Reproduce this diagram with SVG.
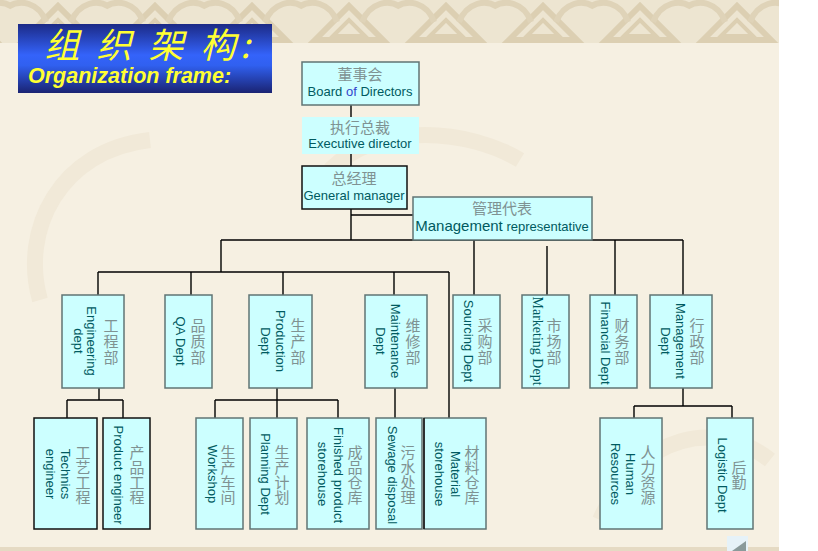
<svg xmlns="http://www.w3.org/2000/svg" width="818" height="551" viewBox="0 0 818 551">
<style>
.box{fill:#ccffff;stroke:#607474;stroke-width:1.5}
.bbox{fill:#ccffff;stroke:#111;stroke-width:1.5}
.cn{font-family:"Noto Sans CJK SC","Noto Sans",sans-serif;font-size:15px;fill:#7f9292;text-anchor:middle}
.en{font-family:"Liberation Sans",Arial,sans-serif;font-size:13px;fill:#005a60;text-anchor:middle}
.ens{font-family:"Liberation Serif","Times New Roman",serif;font-size:14px;fill:#005a60;text-anchor:middle}
#connectors line{stroke:#000;stroke-width:1.4}
</style>
<defs>
<linearGradient id="tg" x1="0" y1="0" x2="0" y2="1">
<stop offset="0" stop-color="#1c2a86"/>
<stop offset="0.45" stop-color="#3463fa"/>
<stop offset="0.6" stop-color="#3060f0"/>
<stop offset="1" stop-color="#1a2372"/>
</linearGradient>
<pattern id="knot" x="10" y="0" width="97" height="43" patternUnits="userSpaceOnUse">
<rect width="97" height="43" fill="#ede5d1"/>
<path d="M14,40 L48,6 L82,40 Z" fill="none" stroke="#dccfb2" stroke-width="6"/>
<path d="M32,36 L48,20 L64,36 Z" fill="none" stroke="#dccfb2" stroke-width="4"/>
<path d="M-6,10 C10,-4 30,4 36,22 M61,22 C68,4 88,-4 103,10" fill="none" stroke="#dfd3b8" stroke-width="6"/>
</pattern>
</defs>
<rect width="818" height="551" fill="#ffffff"/>
<rect x="0" y="0" width="779" height="548" fill="#f6f0e2"/>
<g fill="none" stroke="#f1e9d8" stroke-width="16">
<path d="M40,300 C20,230 60,150 150,140"/>
<path d="M600,520 C640,430 720,420 770,460"/>
<path d="M330,170 C380,120 470,130 520,160"/>
</g>
<rect x="0" y="0" width="779" height="43" fill="url(#knot)"/>
<rect x="0" y="547" width="779" height="4" fill="#e5dac3"/>
<rect x="727" y="536" width="21" height="15" fill="#e6f2f8"/>
<path d="M732,551 L746,541 L746,551 Z" fill="#8a9a9a"/>

<g id="title">
<rect x="18" y="24" width="254" height="69" fill="url(#tg)"/>
<text font-family="'Noto Sans CJK SC',sans-serif" font-size="35" font-style="italic" fill="#ffff33" text-anchor="middle" y="58"><tspan x="62">组</tspan><tspan x="114">织</tspan><tspan x="166">架</tspan><tspan x="218">构</tspan><tspan x="245">:</tspan></text>
<text x="28" y="83" font-family="'Liberation Sans',Arial,sans-serif" font-size="21.5" font-weight="bold" font-style="italic" fill="#ffff33">Organization frame:</text>
</g>

<g id="connectors">
<line x1="351" y1="105" x2="351" y2="117"/>
<line x1="351" y1="154" x2="351" y2="166"/>
<line x1="351" y1="209" x2="351" y2="240"/>
<line x1="351" y1="215" x2="413" y2="215"/>
<line x1="221" y1="240" x2="683" y2="240"/>
<line x1="221" y1="240" x2="221" y2="272"/>
<line x1="98" y1="272" x2="449" y2="272"/>
<line x1="98" y1="272" x2="98" y2="295"/>
<line x1="191" y1="272" x2="191" y2="295"/>
<line x1="283" y1="272" x2="283" y2="295"/>
<line x1="394" y1="272" x2="394" y2="295"/>
<line x1="449" y1="272" x2="449" y2="418"/>
<line x1="474" y1="240" x2="474" y2="295"/>
<line x1="547" y1="246" x2="547" y2="295"/>
<line x1="615" y1="240" x2="615" y2="295"/>
<line x1="683" y1="240" x2="683" y2="295"/>
<line x1="99" y1="388" x2="99" y2="400"/>
<line x1="67" y1="400" x2="123" y2="400"/>
<line x1="67" y1="400" x2="67" y2="418"/>
<line x1="123" y1="400" x2="123" y2="418"/>
<line x1="277" y1="388" x2="277" y2="418"/>
<line x1="215" y1="400" x2="338" y2="400"/>
<line x1="215" y1="400" x2="215" y2="418"/>
<line x1="338" y1="400" x2="338" y2="418"/>
<line x1="395" y1="388" x2="395" y2="418"/>
<line x1="683" y1="388" x2="683" y2="406"/>
<line x1="634" y1="406" x2="732" y2="406"/>
<line x1="634" y1="406" x2="634" y2="418"/>
<line x1="732" y1="406" x2="732" y2="418"/>
</g>

<g id="board">
<rect class="box" x="302" y="62" width="117" height="43"/>
<text class="cn" x="360" y="80">董事会</text>
<text class="en" x="360" y="96">Board <tspan fill="#3344cc">of</tspan> Directors</text>
</g>
<g id="executive">
<rect x="302" y="117" width="117" height="37" fill="#ccffff"/>
<text class="cn" x="360" y="133">执行总裁</text>
<text class="en" x="360" y="148">Executive director</text>
</g>
<g id="general-manager">
<rect class="bbox" x="302" y="166" width="105" height="43"/>
<text class="cn" x="354" y="184">总经理</text>
<text class="en" x="354" y="200">General manager</text>
</g>
<g id="management-rep">
<rect class="box" x="413" y="197" width="179" height="43"/>
<text class="cn" x="502" y="214">管理代表</text>
<text class="en" x="502" y="231"><tspan font-size="15">Management</tspan> representative</text>
</g>

<g id="engineering">
<rect class="box" x="62" y="295" width="62" height="93"/>
<text class="cn"><tspan x="111" y="331">工</tspan><tspan x="111" y="347">程</tspan><tspan x="111" y="363">部</tspan></text>
<text class="en" transform="translate(87,341) rotate(90)">Engineering</text>
<text class="en" transform="translate(74,341) rotate(90)">dept</text>
</g>
<g id="qa">
<rect class="box" x="165" y="295" width="47" height="93"/>
<text class="cn"><tspan x="198" y="331">品</tspan><tspan x="198" y="347">质</tspan><tspan x="198" y="363">部</tspan></text>
<text class="en" transform="translate(176,341) rotate(90)">QA Dept</text>
</g>
<g id="production">
<rect class="box" x="249" y="295" width="63" height="93"/>
<text class="cn"><tspan x="298" y="331">生</tspan><tspan x="298" y="347">产</tspan><tspan x="298" y="363">部</tspan></text>
<text class="en" transform="translate(276,341) rotate(90)">Production</text>
<text class="en" transform="translate(261,341) rotate(90)">Dept</text>
</g>
<g id="maintenance">
<rect class="box" x="365" y="295" width="62" height="93"/>
<text class="cn"><tspan x="413" y="331">维</tspan><tspan x="413" y="347">修</tspan><tspan x="413" y="363">部</tspan></text>
<text class="en" transform="translate(391,341) rotate(90)">Maintenance</text>
<text class="en" transform="translate(376,341) rotate(90)">Dept</text>
</g>
<g id="sourcing">
<rect class="box" x="453" y="295" width="47" height="93"/>
<text class="cn"><tspan x="485" y="331">采</tspan><tspan x="485" y="347">购</tspan><tspan x="485" y="363">部</tspan></text>
<text class="en" transform="translate(464,341) rotate(90)">Sourcing Dept</text>
</g>
<g id="marketing">
<rect class="box" x="522" y="295" width="47" height="93"/>
<text class="cn"><tspan x="554" y="331">市</tspan><tspan x="554" y="347">场</tspan><tspan x="554" y="363">部</tspan></text>
<text class="ens" transform="translate(533,341) rotate(90)">Marketing Dept</text>
</g>
<g id="financial">
<rect class="box" x="590" y="295" width="47" height="93"/>
<text class="cn"><tspan x="622" y="331">财</tspan><tspan x="622" y="347">务</tspan><tspan x="622" y="363">部</tspan></text>
<text class="en" transform="translate(601,343) rotate(90)">Financial Dept</text>
</g>
<g id="management">
<rect class="box" x="650" y="295" width="62" height="93"/>
<text class="cn"><tspan x="697" y="331">行</tspan><tspan x="697" y="347">政</tspan><tspan x="697" y="363">部</tspan></text>
<text class="en" transform="translate(676,341) rotate(90)">Management</text>
<text class="en" transform="translate(661,341) rotate(90)">Dept</text>
</g>

<g id="technics">
<rect class="bbox" x="34" y="418" width="63" height="111"/>
<text class="cn"><tspan x="83" y="458">工</tspan><tspan x="83" y="473">艺</tspan><tspan x="83" y="488">工</tspan><tspan x="83" y="503">程</tspan></text>
<text class="en" transform="translate(61,474) rotate(90)">Technics</text>
<text class="en" transform="translate(46,474) rotate(90)">engineer</text>
</g>
<g id="product-engineer">
<rect class="bbox" x="103" y="418" width="47" height="111"/>
<text class="cn"><tspan x="137" y="458">产</tspan><tspan x="137" y="473">品</tspan><tspan x="137" y="488">工</tspan><tspan x="137" y="503">程</tspan></text>
<text class="en" transform="translate(114,475) rotate(90)">Product engineer</text>
</g>
<g id="workshop">
<rect class="box" x="196" y="418" width="47" height="111"/>
<text class="cn"><tspan x="228" y="458">生</tspan><tspan x="228" y="473">产</tspan><tspan x="228" y="488">车</tspan><tspan x="228" y="503">间</tspan></text>
<text class="en" transform="translate(208,474) rotate(90)">Workshop</text>
</g>
<g id="planning">
<rect class="box" x="250" y="418" width="47" height="111"/>
<text class="cn"><tspan x="282" y="458">生</tspan><tspan x="282" y="473">产</tspan><tspan x="282" y="488">计</tspan><tspan x="282" y="503">划</tspan></text>
<text class="en" transform="translate(261,474) rotate(90)">Planning Dept</text>
</g>
<g id="finished-storehouse">
<rect class="box" x="307" y="418" width="62" height="111"/>
<text class="cn"><tspan x="355" y="458">成</tspan><tspan x="355" y="473">品</tspan><tspan x="355" y="488">仓</tspan><tspan x="355" y="503">库</tspan></text>
<text class="en" transform="translate(334,475) rotate(90)">Finished product</text>
<text class="en" transform="translate(318,474) rotate(90)">storehouse</text>
</g>
<g id="sewage">
<rect class="box" x="376" y="418" width="46" height="111"/>
<text class="cn"><tspan x="408" y="458">污</tspan><tspan x="408" y="473">水</tspan><tspan x="408" y="488">处</tspan><tspan x="408" y="503">理</tspan></text>
<text class="en" transform="translate(388,475) rotate(90)">Sewage disposal</text>
</g>
<g id="material-storehouse">
<rect class="box" x="424" y="418" width="62" height="111"/>
<line x1="424" y1="418" x2="424" y2="529" stroke="#111" stroke-width="1.5"/>
<text class="cn"><tspan x="472" y="458">材</tspan><tspan x="472" y="473">料</tspan><tspan x="472" y="488">仓</tspan><tspan x="472" y="503">库</tspan></text>
<text class="en" transform="translate(451,474) rotate(90)">Material</text>
<text class="en" transform="translate(435,474) rotate(90)">storehouse</text>
</g>
<g id="human-resources">
<rect class="box" x="600" y="418" width="62" height="111"/>
<text class="cn"><tspan x="648" y="458">人</tspan><tspan x="648" y="473">力</tspan><tspan x="648" y="488">资</tspan><tspan x="648" y="503">源</tspan></text>
<text class="en" transform="translate(626,474) rotate(90)">Human</text>
<text class="en" transform="translate(611,474) rotate(90)">Resources</text>
</g>
<g id="logistic">
<rect class="box" x="707" y="418" width="46" height="111"/>
<text class="cn"><tspan x="739" y="473">后</tspan><tspan x="739" y="488">勤</tspan></text>
<text class="en" transform="translate(718,475) rotate(90)">Logistic Dept</text>
</g>
</svg>
